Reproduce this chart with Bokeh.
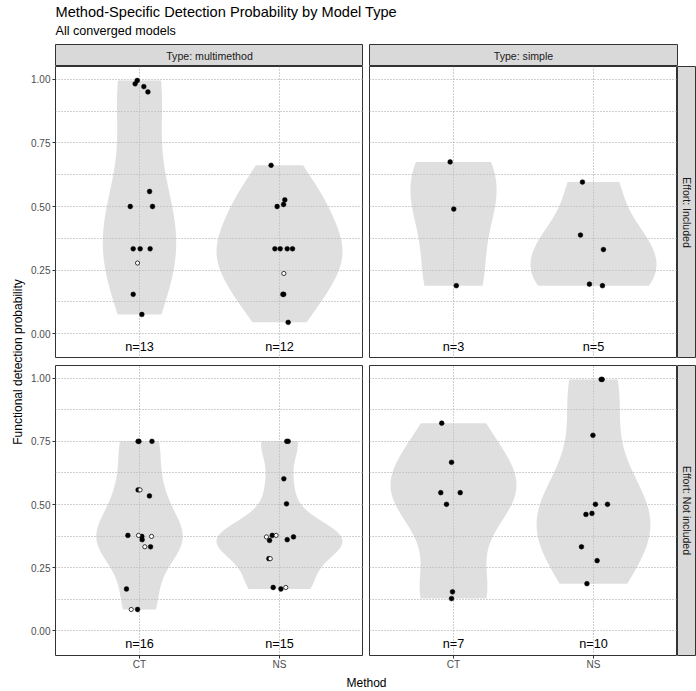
import numpy as np
from bokeh.plotting import figure
from bokeh.layouts import row, column
from bokeh.models import Range1d, FixedTicker, Grid, NumeralTickFormatter
from bokeh.core.properties import value
from bokeh.embed import file_html
from bokeh.resources import INLINE

# ---------------- data ----------------
TITLE = "Method-Specific Detection Probability by Model Type"
SUBTITLE = "All converged models"
X_LABEL = "Method"
Y_LABEL = "Functional detection probability"
METHODS = ["CT", "NS"]
TYPES = ["multimethod", "simple"]
EFFORTS = ["Included", "Not included"]
Y_TICKS = [0.0, 0.25, 0.5, 0.75, 1.0]
Y_MINOR = [0.125, 0.375, 0.625, 0.875]

# Effort: Included / Type: multimethod
inc_mm_ct_y = [0.982, 0.995, 0.971, 0.950, 0.559, 0.500, 0.500, 0.334, 0.334, 0.334, 0.278, 0.155, 0.076]
inc_mm_ct_jit = [-0.031, -0.016, 0.031, 0.060, 0.072, -0.066, 0.093, -0.045, 0.005, 0.076, -0.014, -0.045, 0.017]
inc_mm_ct_open = [0, 0, 0, 0, 0, 0, 0, 0, 0, 0, 1, 0, 0]
inc_mm_ns_y = [0.662, 0.526, 0.508, 0.500, 0.334, 0.334, 0.334, 0.334, 0.237, 0.155, 0.155, 0.045]
inc_mm_ns_jit = [-0.060, 0.038, 0.029, -0.017, -0.033, 0.005, 0.055, 0.093, 0.031, 0.024, 0.030, 0.062]
inc_mm_ns_open = [0, 0, 0, 0, 0, 0, 0, 0, 1, 0, 0, 0]

# Effort: Included / Type: simple
inc_si_ct_y = [0.675, 0.490, 0.189]
inc_si_ct_jit = [-0.024, 0.002, 0.020]
inc_si_ct_open = [0, 0, 0]
inc_si_ns_y = [0.596, 0.388, 0.331, 0.195, 0.189]
inc_si_ns_jit = [-0.079, -0.093, 0.071, -0.029, 0.064]
inc_si_ns_open = [0, 0, 0, 0, 0]

# Effort: Not included / Type: multimethod
not_mm_ct_y = [0.750, 0.750, 0.750, 0.558, 0.558, 0.534, 0.378, 0.378, 0.374, 0.361, 0.374, 0.333, 0.333, 0.166, 0.085, 0.085]
not_mm_ct_jit = [-0.010, -0.004, 0.089, -0.010, 0.004, 0.071, -0.083, -0.007, 0.017, 0.019, 0.086, 0.038, 0.079, -0.093, -0.059, -0.014]
not_mm_ct_open = [0, 0, 0, 0, 1, 0, 0, 1, 0, 0, 1, 1, 0, 0, 1, 0]
not_mm_ns_y = [0.750, 0.750, 0.602, 0.503, 0.372, 0.358, 0.378, 0.378, 0.361, 0.372, 0.286, 0.286, 0.172, 0.166, 0.172]
not_mm_ns_jit = [0.052, 0.062, 0.031, 0.050, -0.093, -0.071, -0.052, -0.024, 0.055, 0.100, -0.076, -0.066, -0.045, 0.010, 0.045]
not_mm_ns_open = [0, 0, 0, 0, 1, 0, 0, 1, 0, 0, 0, 1, 0, 0, 1]

# Effort: Not included / Type: simple
not_si_ct_y = [0.822, 0.667, 0.547, 0.547, 0.501, 0.155, 0.128]
not_si_ct_jit = [-0.084, -0.014, -0.091, 0.048, -0.050, -0.007, -0.014]
not_si_ct_open = [0, 0, 0, 0, 0, 0, 0]
not_si_ns_y = [0.995, 0.995, 0.774, 0.501, 0.501, 0.461, 0.465, 0.333, 0.278, 0.187]
not_si_ns_jit = [0.055, 0.062, -0.004, 0.014, 0.100, -0.054, -0.011, -0.086, 0.026, -0.047]
not_si_ns_open = [0, 0, 0, 0, 0, 0, 0, 0, 0, 0]

DATA = {
    ("Included", "multimethod"): {"CT": (inc_mm_ct_y, inc_mm_ct_jit, inc_mm_ct_open),
                                   "NS": (inc_mm_ns_y, inc_mm_ns_jit, inc_mm_ns_open)},
    ("Included", "simple"): {"CT": (inc_si_ct_y, inc_si_ct_jit, inc_si_ct_open),
                              "NS": (inc_si_ns_y, inc_si_ns_jit, inc_si_ns_open)},
    ("Not included", "multimethod"): {"CT": (not_mm_ct_y, not_mm_ct_jit, not_mm_ct_open),
                                       "NS": (not_mm_ns_y, not_mm_ns_jit, not_mm_ns_open)},
    ("Not included", "simple"): {"CT": (not_si_ct_y, not_si_ct_jit, not_si_ct_open),
                                  "NS": (not_si_ns_y, not_si_ns_jit, not_si_ns_open)},
}

# ---------------- style ----------------
FONT = "Liberation Sans"
GRID = "#A0A0A0"
BORDER = "#333333"
STRIP = "#D9D9D9"
X_LO, X_HI = 0.4, 2.6
Y_LO, Y_HI = -0.097, 1.05
N_Y = -0.052
VIOLIN_WIDTH = 0.9


def bw_nrd(v):
    v = np.asarray(v, float)
    sd = v.std(ddof=1)
    q25, q75 = np.percentile(v, [25, 75])
    lo = min(sd, (q75 - q25) / 1.34)
    if lo <= 0:
        lo = sd if sd > 0 else (abs(v[0]) if v[0] != 0 else 1.0)
    return 1.06 * lo * len(v) ** -0.2


def kde(v):
    v = np.asarray(v, float)
    grid = np.linspace(v.min(), v.max(), 512)
    bw = bw_nrd(v)
    z = (grid[:, None] - v[None, :]) / bw
    d = np.exp(-0.5 * z ** 2).sum(1) / (len(v) * bw * np.sqrt(2 * np.pi))
    return grid, d


def base_fig(w, h, xr, yr, bl=0, br=0, bt=0, bb=0, xloc=None, yloc=None):
    p = figure(width=w, height=h, x_range=xr, y_range=yr,
               toolbar_location=None, tools="", output_backend="svg", title=None,
               x_axis_location=xloc, y_axis_location=yloc,
               min_border_left=bl, min_border_right=br, min_border_top=bt, min_border_bottom=bb)
    for g in p.select(type=Grid):
        g.visible = False
    p.background_fill_color = "white"
    p.border_fill_color = "white"
    p.outline_line_color = None
    return p


def put_text(p, x, y, text, size, color="black", align="left", angle=0.0):
    p.text(x=[x], y=[y], text=[text], angle=angle, text_font=value(FONT), text_font_size=size,
           text_color=color, text_align=align, text_baseline="middle")


def blank(w, h):
    return base_fig(w, h, Range1d(0, w), Range1d(0, h))


def strip_fig(w, h, bl, br, bt, bb, text, vertical=False):
    fw, fh = w - bl - br, h - bt - bb
    p = base_fig(w, h, Range1d(0, fw), Range1d(0, fh), bl, br, bt, bb)
    p.background_fill_color = STRIP
    p.outline_line_color = BORDER
    p.outline_line_width = 1
    if vertical:
        put_text(p, 9.3, fh / 2, text, "10.5px", "#1A1A1A", "center", -np.pi / 2)
    else:
        put_text(p, fw / 2, fh / 2, text, "10.6px", "#1A1A1A", "center")
    return p


def panel(effort, ptype, w, h, bl, bt, bb, show_y, show_x):
    p = base_fig(w, h, Range1d(X_LO, X_HI), Range1d(Y_LO, Y_HI), bl, 0, bt, bb,
                 "below" if show_x else None, "left" if show_y else None)
    p.outline_line_color = BORDER
    p.outline_line_width = 1

    yg = Grid(dimension=1, ticker=FixedTicker(ticks=Y_TICKS, minor_ticks=Y_MINOR),
              grid_line_color=GRID, grid_line_dash="1 2", grid_line_width=1,
              minor_grid_line_color=GRID, minor_grid_line_dash="1 2", minor_grid_line_width=1)
    xg = Grid(dimension=0, ticker=FixedTicker(ticks=[i + 1 for i in range(len(METHODS))]),
              grid_line_color=GRID, grid_line_dash="1 2", grid_line_width=1)
    p.add_layout(yg)
    p.add_layout(xg)

    groups = DATA[(effort, ptype)]
    dens = {m: kde(groups[m][0]) for m in METHODS}
    dmax = max(d.max() for _, d in dens.values())
    for i, m in enumerate(METHODS):
        c = i + 1
        g, d = dens[m]
        hw = d / dmax * VIOLIN_WIDTH / 2
        xs = np.concatenate([c - hw, (c + hw)[::-1]])
        ys = np.concatenate([g, g[::-1]])
        p.patch(xs, ys, fill_color="#BFBFBF", fill_alpha=0.5, line_color=None)

    for i, m in enumerate(METHODS):
        c = i + 1
        yv, jit, op = groups[m]
        xf = [c + j for j, o in zip(jit, op) if not o]
        yf = [y for y, o in zip(yv, op) if not o]
        xo = [c + j for j, o in zip(jit, op) if o]
        yo = [y for y, o in zip(yv, op) if o]
        p.scatter(xf, yf, size=4.8, marker="circle", fill_color="black", line_color="black", line_width=0.5)
        if xo:
            p.scatter(xo, yo, size=4.2, marker="circle", fill_color="white", line_color="#222222", line_width=0.9)

    p.text(x=[i + 1 for i in range(len(METHODS))], y=[N_Y] * len(METHODS),
           text=["n=%d" % len(groups[m][0]) for m in METHODS],
           text_font=value(FONT), text_font_size="12.7px", text_color="black",
           text_align="center", text_baseline="middle")

    if show_y:
        ax = p.yaxis[0]
        ax.ticker = FixedTicker(ticks=Y_TICKS)
        ax.formatter = NumeralTickFormatter(format="0.00")
    if show_x:
        ax = p.xaxis[0]
        ax.ticker = FixedTicker(ticks=[i + 1 for i in range(len(METHODS))])
        ax.major_label_overrides = {i + 1: m for i, m in enumerate(METHODS)}
    for ax in list(p.xaxis) + list(p.yaxis):
        ax.axis_line_color = None
        ax.major_tick_line_color = BORDER
        ax.major_tick_out = 3
        ax.major_tick_in = 0
        ax.minor_tick_line_color = None
        ax.major_label_text_font = FONT
        ax.major_label_text_font_size = "10px"
        ax.major_label_text_color = "#4D4D4D"
    for ax in p.yaxis:
        ax.major_label_standoff = 2
    for ax in p.xaxis:
        ax.major_label_standoff = 0
    return p


# ---------------- layout (total 696 x 691) ----------------
title_fig = blank(696, 44)
put_text(title_fig, 55, 32.3, TITLE, "14.6px")
put_text(title_fig, 55, 13.9, SUBTITLE, "12.6px")

ytitle_fig = blank(28, 647)
put_text(ytitle_fig, 17.8, 329.5, Y_LABEL, "12px", "black", "center", np.pi / 2)

strip_l = strip_fig(335, 22, 27, 0, 0, 0, "Type: " + TYPES[0])
strip_r = strip_fig(333, 22, 6, 19, 0, 0, "Type: " + TYPES[1])

p_tl = panel(EFFORTS[0], TYPES[0], 335, 292, 27, 0, 0, True, False)
p_tr = panel(EFFORTS[0], TYPES[1], 314, 292, 6, 0, 0, False, False)
s_tr = strip_fig(19, 292, 0, 0, 0, 0, "Effort: " + EFFORTS[0], vertical=True)

p_bl = panel(EFFORTS[1], TYPES[0], 335, 314, 27, 7, 15, True, True)
p_br = panel(EFFORTS[1], TYPES[1], 314, 314, 6, 7, 15, False, True)
s_br = strip_fig(19, 314, 0, 0, 7, 15, "Effort: " + EFFORTS[1], vertical=True)

xtitle_fig = blank(668, 19)
put_text(xtitle_fig, 338, 8.2, X_LABEL, "12px", "black", "center")

main_col = column(
    row(strip_l, strip_r, spacing=0),
    row(p_tl, p_tr, s_tr, spacing=0),
    row(p_bl, p_br, s_br, spacing=0),
    xtitle_fig,
    spacing=0,
)
layout = column(title_fig, row(ytitle_fig, main_col, spacing=0), spacing=0)

open("out.html", "w").write(file_html(layout, INLINE))
